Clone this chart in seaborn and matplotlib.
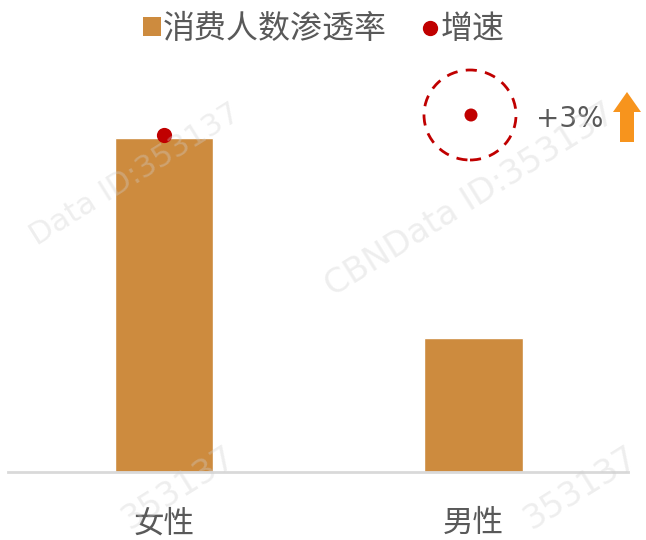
import numpy as np
import pandas as pd
import matplotlib
matplotlib.use("Agg")
import matplotlib.pyplot as plt
import seaborn as sns
from matplotlib.patches import Ellipse, FancyArrow, Patch
from matplotlib.lines import Line2D

# data
genders = ['女性', '男性']
penetration = [79.5, 31.9]
growth_dot = [80.3]          # dot only shown for 女性
growth_label = '+3%'

bar_color = '#CD8B3E'
red = '#C00000'
grey_text = '#595959'

sns.set_style('white')
plt.rcParams['font.family'] = ['Noto Sans CJK SC', 'DejaVu Sans']

fig = plt.figure(figsize=(6.46, 5.40), dpi=100)
ax = fig.add_axes([8 / 646, 68 / 540, 620 / 646, 420 / 540])

df = pd.DataFrame({'gender': genders, 'value': penetration})
sns.barplot(data=df, x='gender', y='value', color=bar_color, width=0.317,
            saturation=1, ax=ax)
ax.scatter([0], growth_dot, s=120, color=red, zorder=5, linewidths=0)

ax.set_xlim(-0.504, 1.499)
ax.set_ylim(0, 100)
ax.set_xlabel('')
ax.set_ylabel('')
ax.set_yticks([])
for s in ['top', 'right', 'left']:
    ax.spines[s].set_visible(False)
ax.spines['bottom'].set_color('#D9D9D9')
ax.spines['bottom'].set_linewidth(2)
ax.tick_params(axis='x', length=0, pad=26, labelsize=22, labelcolor=grey_text)

# legend
handles = [
    Patch(facecolor=bar_color, edgecolor='none', label='消费人数渗透率'),
    Line2D([], [], marker='o', color='none', markerfacecolor=red,
           markeredgecolor=red, markersize=10, label='增速'),
]
fig.legend(handles=handles, loc='center', bbox_to_anchor=(324 / 646, 1 - 29 / 540),
           ncol=2, frameon=False, fontsize=23, labelcolor=grey_text,
           handlelength=0.55, handleheight=0.55, handletextpad=0.05,
           columnspacing=1.1)

# growth annotation
fig.patches.append(Ellipse((470 / 646, 1 - 115 / 540), 92 / 646, 90 / 540,
                           transform=fig.transFigure, fill=False, edgecolor=red,
                           linewidth=2, linestyle=(0, (4, 3))))
fig.patches.append(Ellipse((471 / 646, 1 - 115 / 540), 13 / 646, 13 / 540,
                           transform=fig.transFigure, facecolor=red, edgecolor='none'))
fig.text(536 / 646, 1 - 119 / 540, growth_label, fontsize=20, color=grey_text,
         va='center', ha='left', family=['DejaVu Sans'])
fig.patches.append(FancyArrow(627 / 646, 1 - 142 / 540, 0, 50 / 540,
                              width=14 / 646, head_width=28 / 646,
                              head_length=20 / 540, length_includes_head=True,
                              transform=fig.transFigure, color='#F7941D',
                              linewidth=0))

# faint watermarks
for txt, x, y, fs in [('Data ID:353137', 135, 175, 22), ('CBNData ID:353137', 470, 200, 24),
                      ('353137', 178, 488, 24), ('353137', 580, 488, 24)]:
    fig.text(x / 646, 1 - y / 540, txt, fontsize=fs, color='#D0D0D0', alpha=0.35,
             rotation=32, ha='center', va='center', zorder=10,
             family=['DejaVu Sans'])

fig.savefig('out.png', dpi=100)
